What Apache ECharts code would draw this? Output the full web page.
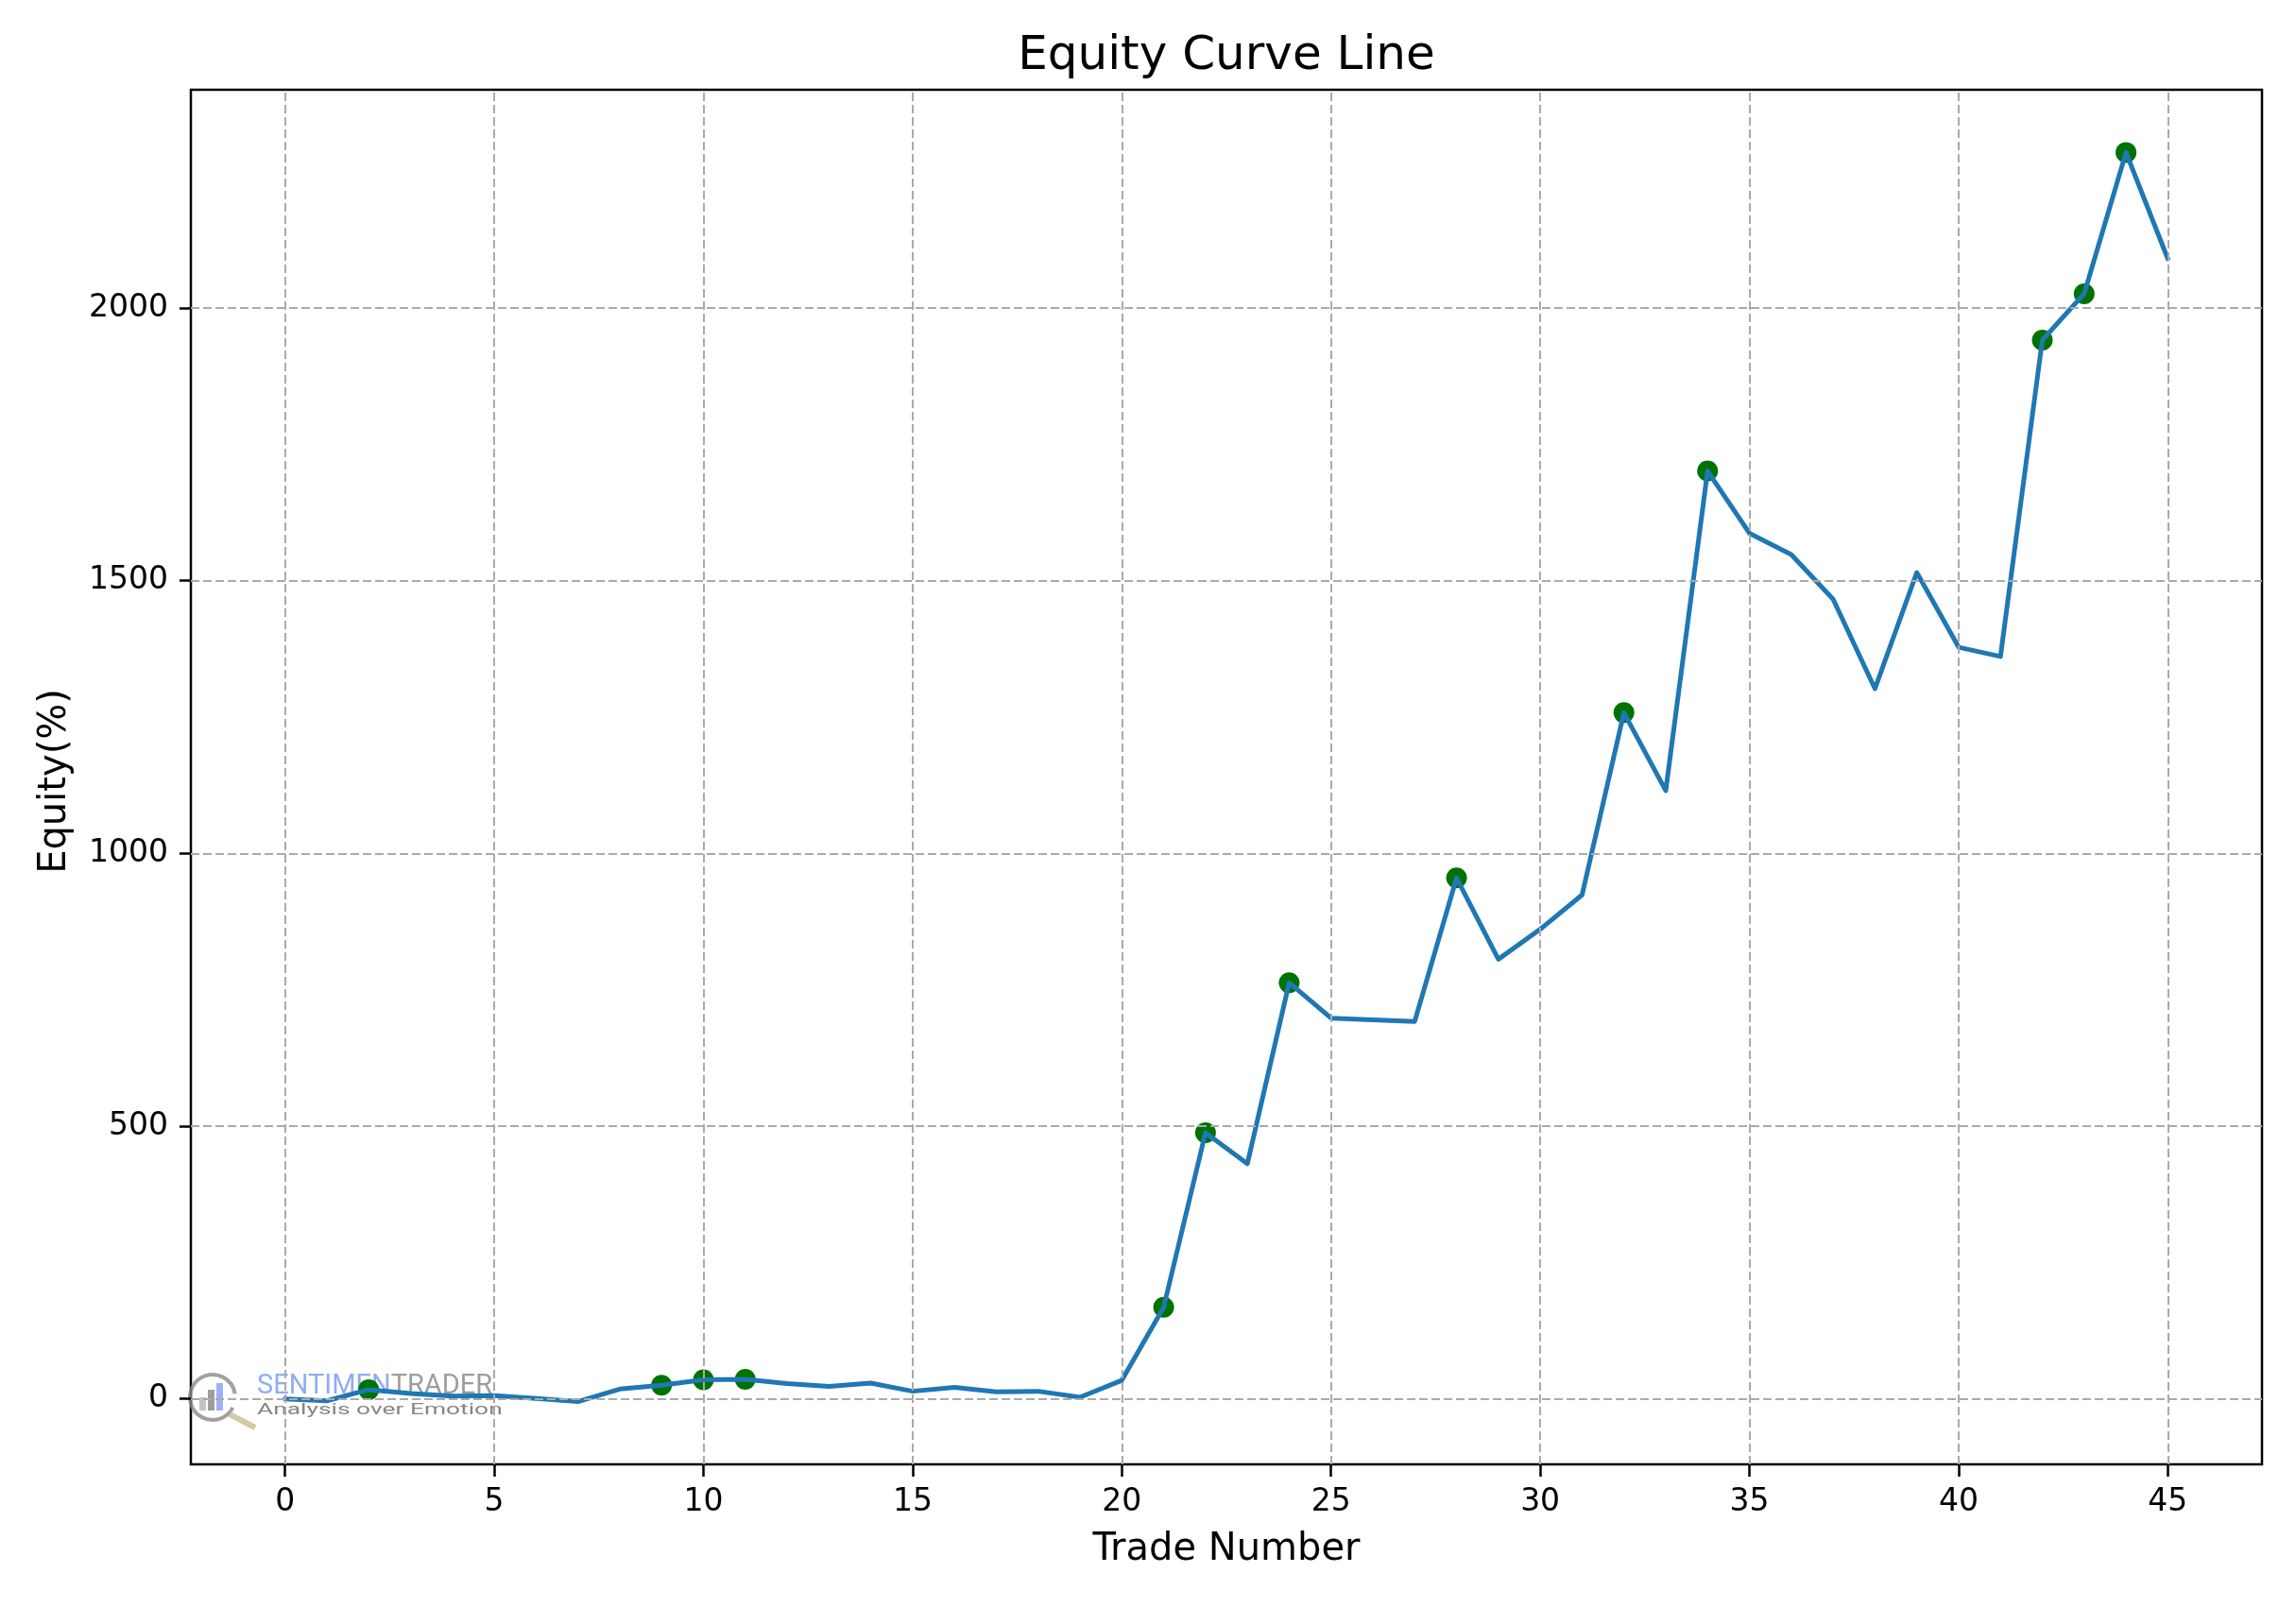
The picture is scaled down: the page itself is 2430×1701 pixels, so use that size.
<!DOCTYPE html>
<html>
<head>
<meta charset="utf-8">
<script src="https://cdn.jsdelivr.net/npm/echarts@6/dist/echarts.min.js"></script>
<style>
html,body{margin:0;padding:0;background:#fff;}
#chart{width:2430px;height:1701px;}
</style>
</head>
<body>
<div id="chart"></div>
<script>
// ---- data ----
const tradeNumbers = [0,1,2,3,4,5,6,7,8,9,10,11,12,13,14,15,16,17,18,19,20,21,22,23,24,25,26,27,28,29,30,31,32,33,34,35,36,37,38,39,40,41,42,43,44,45];
const equity = [0,-3.5,17,10,5,6,1,-5,18,25,
                35,36,28,23,29,14,21,13,14,3,
                34,168,488,431,763,698,695,692,955,806,
                861,924,1258,1115,1701,1587,1548,1466,1302,1515,
                1378,1361,1941,2026,2285,2090];
const highlightTrades = [2,9,10,11,21,22,24,28,32,34,42,43,44];
const xTicks = [0,5,10,15,20,25,30,35,40,45];
const yTicks = [0,500,1000,1500,2000];
const titleText = 'Equity Curve Line';
const xName = 'Trade Number';
const yName = 'Equity(%)';

const lineData = tradeNumbers.map((t, i) => [t, equity[i]]);
const dotData = highlightTrades.map(t => [t, equity[tradeNumbers.indexOf(t)]]);
const gridMarks = xTicks.map(v => ({xAxis: v})).concat(yTicks.map(v => ({yAxis: v})));

const FONT = '"DejaVu Sans", sans-serif';
const chart = echarts.init(document.getElementById('chart'), null, {renderer: 'canvas'});
chart.setOption({
  animation: false,
  backgroundColor: '#ffffff',
  grid: {left: 202, right: 36, top: 95, bottom: 151, show: true, borderColor: '#000', borderWidth: 2.5, backgroundColor: 'transparent'},
  xAxis: {
    type: 'value', min: -2.25, max: 47.25,
    axisLine: {show: false, onZero: false},
    axisTick: {show: true, customValues: xTicks, length: 13, lineStyle: {color: '#000', width: 2.5}},
    axisLabel: {customValues: xTicks, fontSize: 33, fontFamily: FONT, color: '#000', margin: 24, formatter: v => String(v)},
    splitLine: {show: false}
  },
  yAxis: {
    type: 'value', min: -120, max: 2400,
    axisLine: {show: false, onZero: false},
    axisTick: {show: true, customValues: yTicks, length: 12, lineStyle: {color: '#000', width: 2.5}},
    axisLabel: {customValues: yTicks, fontSize: 33, fontFamily: FONT, color: '#000', margin: 24, formatter: v => String(v)},
    splitLine: {show: false}
  },
  series: [
    {
      type: 'line', data: lineData, z: 1, silent: true,
      showSymbol: false, lineStyle: {opacity: 0},
      markLine: {
        silent: true, symbol: 'none', animation: false,
        label: {show: false},
        lineStyle: {type: [9, 4], color: '#aaaaaa', width: 2},
        emphasis: {disabled: true},
        data: gridMarks
      }
    },
    {
      type: 'scatter', data: dotData, z: 2,
      symbol: 'circle', symbolSize: 22,
      itemStyle: {color: '#007200', opacity: 1}
    },
    {
      type: 'line', data: lineData, z: 3,
      showSymbol: false, symbol: 'none',
      lineStyle: {color: '#1f77b4', width: 5, join: 'round', cap: 'round'}
    }
  ],
  graphic: [
    {type: 'text', x: 1298, y: 60, z: 10, style: {text: titleText, font: '50px ' + FONT, fill: '#000', textAlign: 'center', textVerticalAlign: 'middle'}},
    {type: 'text', x: 1298, y: 1641, z: 10, style: {text: xName, font: '40px ' + FONT, fill: '#000', textAlign: 'center', textVerticalAlign: 'middle'}},
    {type: 'text', x: 59, y: 827, rotation: Math.PI / 2, z: 10, style: {text: yName, font: '40px ' + FONT, fill: '#000', textAlign: 'center', textVerticalAlign: 'middle'}},
    // watermark
    {type: 'group', z: 20, silent: true, children: [
      {type: 'arc', shape: {cx: 225, cy: 1479, r: 24, startAngle: Math.PI * 0.15, endAngle: Math.PI * 1.95}, style: {stroke: '#8a8a8a', lineWidth: 4, fill: null, opacity: 0.8}},
      {type: 'rect', shape: {x: 211, y: 1479, width: 7, height: 14}, style: {fill: '#b8b8c0', opacity: 0.85}},
      {type: 'rect', shape: {x: 220, y: 1471, width: 7, height: 22}, style: {fill: '#8c8c8c', opacity: 0.85}},
      {type: 'rect', shape: {x: 229, y: 1464, width: 7, height: 29}, style: {fill: '#8aa6f2', opacity: 0.85}},
      {type: 'line', shape: {x1: 243, y1: 1497, x2: 270, y2: 1511}, style: {stroke: '#cdbf9a', lineWidth: 6, opacity: 0.85}},
      {type: 'text', x: 272, y: 1468, style: {
        text: '{a|SENTIMEN}{b|TRADER}', textVerticalAlign: 'middle',
        rich: {a: {fontSize: 29, fontFamily: 'Roboto', fill: '#7d9ff0', color: '#7d9ff0'}, b: {fontSize: 29, fontFamily: 'Roboto', fill: '#8c8c8c', color: '#8c8c8c'}},
        opacity: 0.85
      }},
      {type: 'text', x: 272, y: 1493, scaleX: 1.55, style: {text: 'Analysis over Emotion', font: '17px Roboto', fill: '#707070', textVerticalAlign: 'middle', opacity: 0.85}}
    ]}
  ]
});
</script>
</body>
</html>
